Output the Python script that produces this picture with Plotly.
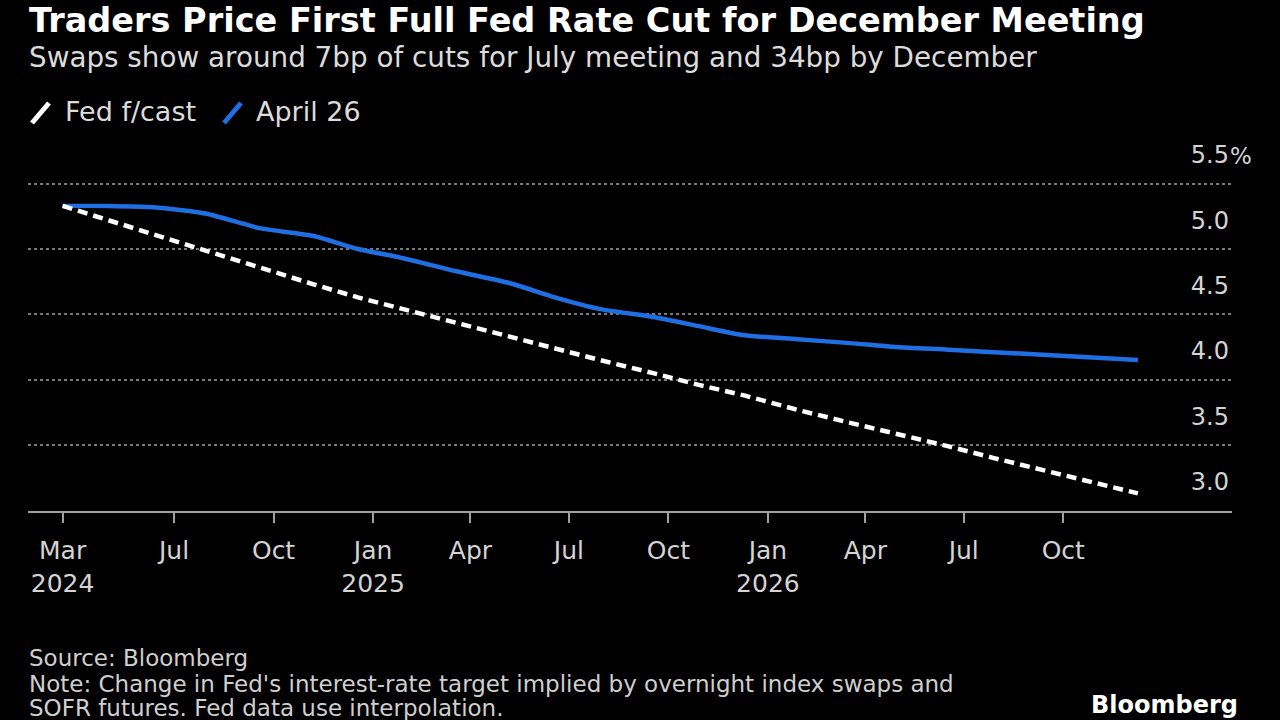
import plotly.graph_objects as go

# ---- data ----
meeting_dates = [
    "2024-03-20", "2024-05-01", "2024-06-12", "2024-07-31", "2024-09-18", "2024-11-07", "2024-12-18",
    "2025-01-29", "2025-03-19", "2025-05-07", "2025-06-18", "2025-07-30", "2025-09-17", "2025-10-29", "2025-12-10",
    "2026-01-28", "2026-03-18", "2026-04-29", "2026-06-17", "2026-07-29", "2026-09-16", "2026-10-28", "2026-12-09",
]
april_26 = [
    5.33, 5.33, 5.32, 5.27, 5.16, 5.10, 5.00,
    4.93, 4.83, 4.74, 4.63, 4.54, 4.48, 4.41, 4.34,
    4.31, 4.28, 4.25, 4.23, 4.21, 4.19, 4.17, 4.15,
]
fed_fcast = [
    5.33, 5.22, 5.11, 4.99, 4.86, 4.73, 4.63,
    4.54, 4.43, 4.33, 4.24, 4.15, 4.05, 3.96, 3.88,
    3.77, 3.67, 3.59, 3.49, 3.40, 3.30, 3.21, 3.13,
]
x_tickvals = ["2024-03-20", "2024-07-01", "2024-10-01", "2025-01-01", "2025-04-01", "2025-07-01",
              "2025-10-01", "2026-01-01", "2026-04-01", "2026-07-01", "2026-10-01"]
x_ticktext = ["Mar<br>2024", "Jul", "Oct", "Jan<br>2025", "Apr", "Jul", "Oct", "Jan<br>2026", "Apr", "Jul", "Oct"]
y_tickvals = [3.0, 3.5, 4.0, 4.5, 5.0, 5.5]
y_ticktext = ["3.0", "3.5", "4.0", "4.5", "5.0", "5.5"]
y_unit = "%"

title = "Traders Price First Full Fed Rate Cut for December Meeting"
subtitle = "Swaps show around 7bp of cuts for July meeting and 34bp by December"
source = "Source: Bloomberg"
note1 = "Note: Change in Fed's interest-rate target implied by overnight index swaps and"
note2 = "SOFR futures. Fed data use interpolation."

# ---- layout geometry ----
W, H = 1280, 720
L, R, T, B = 28, 48, 138, 209
PW, PH = W - L - R, H - T - B
FONT = "DejaVu Sans"
BLUE = "#1f6fe2"
GREY_TXT = "#d4d4d4"


def px(x):
    return (x - L) / PW


def py(y):
    return (H - B - y) / PH


fig = go.Figure()
fig.add_trace(go.Scatter(
    x=meeting_dates, y=april_26, mode="lines", name="April 26",
    line=dict(color=BLUE, width=4.5, shape="spline", smoothing=0.6),
    showlegend=False,
))
fig.add_trace(go.Scatter(
    x=meeting_dates, y=fed_fcast, mode="lines", name="Fed f/cast",
    line=dict(color="white", width=4.5, dash="10px,6px"),
    showlegend=False,
))

fig.update_layout(
    width=W, height=H,
    margin=dict(l=L, r=R, t=T, b=B, autoexpand=False),
    paper_bgcolor="black", plot_bgcolor="black",
    font=dict(family=FONT, color=GREY_TXT),
    xaxis=dict(
        type="date", range=["2024-02-17", "2027-03-06"],
        tickvals=x_tickvals, ticktext=x_ticktext,
        ticks="outside", ticklen=10, tickwidth=2, tickcolor="#a0a0a0",
        ticklabelstandoff=6,
        showline=True, linecolor="#a0a0a0", linewidth=2,
        showgrid=False, zeroline=False,
        tickfont=dict(size=25, color=GREY_TXT, family=FONT),
    ),
    yaxis=dict(
        range=[2.995, 5.85], side="right",
        tickvals=y_tickvals, ticktext=y_ticktext,
        ticklabelposition="inside top", ticklabelshift=-12,
        ticks="", showline=False, zeroline=False,
        showgrid=True, gridcolor="#7a7a7a", griddash="dot", gridwidth=1.5,
        tickfont=dict(size=24, color=GREY_TXT, family=FONT),
    ),
)

# unit marker next to the top y tick label
fig.add_annotation(
    text=y_unit, x=px(1228), xref="paper", xanchor="left",
    y=y_tickvals[-1], yref="y", yanchor="middle", yshift=28,
    showarrow=False, font=dict(size=23, color=GREY_TXT, family=FONT),
)

annos = [
    dict(text="<b>" + title + "</b>", x=px(27), y=py(20.5), size=33.5, color="white"),
    dict(text=subtitle, x=px(27), y=py(57), size=27.8, color="#dcdcdc"),
    dict(text="Fed f/cast", x=px(63), y=py(112), size=27, color="#dcdcdc"),
    dict(text="April 26", x=px(254), y=py(112), size=27, color="#dcdcdc"),
    dict(text=source, x=px(27), y=py(658), size=23, color="#cfcfcf"),
    dict(text=note1, x=px(27), y=py(684), size=23, color="#cfcfcf"),
    dict(text=note2, x=px(27), y=py(708), size=23, color="#cfcfcf"),
]
for a in annos:
    fig.add_annotation(
        text=a["text"], x=a["x"], y=a["y"], xref="paper", yref="paper",
        xanchor="left", yanchor="middle", showarrow=False,
        font=dict(size=a["size"], color=a["color"], family=FONT),
    )
fig.add_annotation(
    text="<b>Bloomberg</b>", x=px(1240), y=py(705), xref="paper", yref="paper",
    xanchor="right", yanchor="middle", showarrow=False,
    font=dict(size=24, color="white", family=FONT),
)

# legend swatches (slanted strokes)
fig.add_shape(type="line", xref="paper", yref="paper",
              x0=px(32), y0=py(123), x1=px(49), y1=py(103),
              line=dict(color="white", width=5))
fig.add_shape(type="line", xref="paper", yref="paper",
              x0=px(224), y0=py(123), x1=px(241), y1=py(103),
              line=dict(color=BLUE, width=5))

fig.write_html(
    "out.html",
    config={"displayModeBar": False},
    post_script="document.body.style.margin='0';document.body.style.background='black';",
)
